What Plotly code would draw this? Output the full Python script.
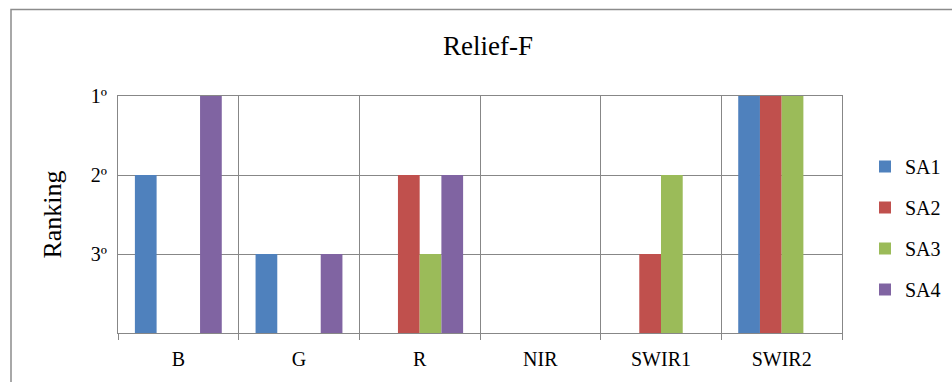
import plotly.graph_objects as go

# Spectral bands (categories) and the Relief-F ranking of each band per study area
bands = ["B", "G", "R", "NIR", "SWIR1", "SWIR2"]
series_names = ["SA1", "SA2", "SA3", "SA4"]
rank_sa1 = [2, 3, None, None, None, 1]
rank_sa2 = [None, None, 2, None, 3, 1]
rank_sa3 = [None, None, 3, None, 2, 1]
rank_sa4 = [1, 3, 2, None, None, None]
colors = ["#4F81BD", "#C0504D", "#9BBB59", "#8064A2"]
rank_tick_labels = ["3º", "2º", "1º"]

FONT = "Liberation Serif"
GRID = "#878787"

fig = go.Figure()
for i, (name, ranks, col) in enumerate(
        zip(series_names, [rank_sa1, rank_sa2, rank_sa3, rank_sa4], colors)):
    # higher rank -> taller bar (1º is the top of the axis)
    heights = [None if r is None else 4 - r for r in ranks]
    fig.add_trace(go.Bar(
        x=bands, y=heights, name=name, marker=dict(color=col, line=dict(width=0)),
        legendgroup=name,
    ))

W, H = 952, 382
L, R, T, B = 118, 110, 96, 49
pw, ph = W - L - R, H - T - B

def px_x(x):
    return (x - L) / pw

def px_y(y):
    return (H - B - y) / ph

fig.update_layout(
    width=W, height=H,
    margin=dict(l=L, r=R, t=T, b=B, autoexpand=False),
    paper_bgcolor="white", plot_bgcolor="white",
    font=dict(family=FONT, size=20, color="black"),
    barmode="group", bargap=0.28, bargroupgap=0,
    title=dict(text="Relief-F", x=488 / W, xref="container", xanchor="center",
               y=1 - 46 / H, yref="container", yanchor="middle",
               font=dict(family=FONT, size=27, color="black")),
    showlegend=True,
    legend=dict(x=px_x(865), y=px_y(147), xanchor="left", yanchor="top",
                font=dict(family=FONT, size=20, color="black"),
                tracegroupgap=12, bgcolor="rgba(0,0,0,0)", borderwidth=0),
    xaxis=dict(type="category", tickson="boundaries", showgrid=True, gridcolor=GRID,
               gridwidth=1, ticks="outside", ticklen=6, tickcolor=GRID,
               showline=True, linecolor=GRID, linewidth=1, mirror=True,
               range=[-0.5, 5.5], ticklabelstandoff=8,
               tickfont=dict(family=FONT, size=20, color="black")),
    yaxis=dict(range=[0, 3], tickvals=[1, 2, 3], ticktext=rank_tick_labels,
               showgrid=True, gridcolor=GRID, gridwidth=1, zeroline=False,
               showline=True, linecolor=GRID, linewidth=1, mirror=True,
               ticks="", ticklabelstandoff=6,
               tickfont=dict(family=FONT, size=20, color="black"),
               title=dict(text="Ranking", font=dict(family=FONT, size=26, color="black"),
                          standoff=21)),
    shapes=[dict(type="rect", xref="paper", yref="paper",
                 x0=px_x(11), x1=px_x(970), y0=px_y(400), y1=px_y(9.5),
                 line=dict(color="#8C8C8C", width=1.5), fillcolor="rgba(0,0,0,0)",
                 layer="below")],
)

fig.write_html("out.html")
